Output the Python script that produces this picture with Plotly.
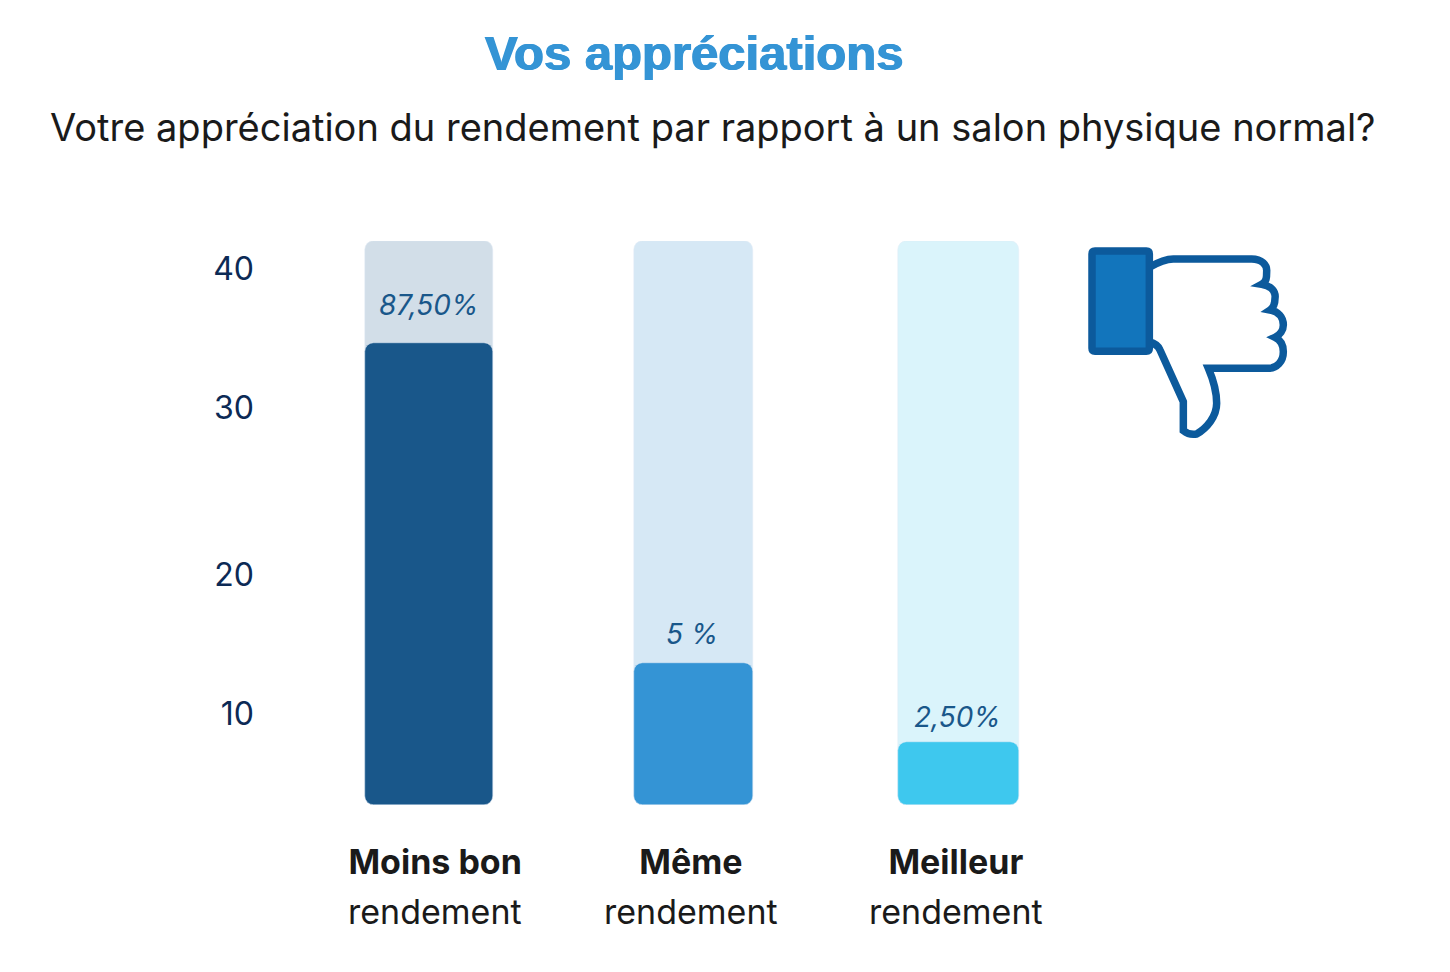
"""Vos appréciations: rendement par rapport à un salon physique."""

import plotly.graph_objects as go

CATEGORIES = ["Moins bon", "Même", "Meilleur"]
BAR_VALUES = [32.8, 10.1, 4.5]
TRACK_VALUES = [40, 40, 40]
PCT_LABELS = ["87,50%", "5 %", "2,50%"]
Y_TICK_VALS = [6.45, 16.35, 28.2, 38.05]
Y_TICK_TEXT = ["10", "20", "30", "40"]

BAR_COLORS = ["#19578a", "#3494d5", "#3ec8ee"]
TRACK_COLORS = ["#d2dee8", "#d6e8f5", "#daf4fb"]
BAR_WIDTHS = [0.483, 0.45, 0.46]
LABEL_TICKS = [0.025, 0.99, 1.99]
LABEL_OFFSETS = [38, 29, 25]
LABEL_X = [0, -0.005, -0.005]

TEXT_COLOR = "#1a1a1a"
TICK_COLOR = "#0c2a55"
TITLE_COLOR = "#3494d5"
ICON_LINE = "#0c5a9c"
ICON_FILL = "#1275bc"
FONT = "Inter, Arial, sans-serif"

# page pixels of the plot area; the page body adds 8px around the figure
PAGE_W, PAGE_H, BODY = 1450, 972, 8
LEFT, RIGHT, TOP, BOTTOM = 296, 1091, 241, 805


def _paper_x(px: float) -> float:
    return (px - LEFT) / (RIGHT - LEFT)


def _paper_y(py: float) -> float:
    return (BOTTOM - py) / (BOTTOM - TOP)


def _icon_xy(zx: float, zy: float) -> str:
    return f"{_paper_x(1070 + zx / 3):.5f},{_paper_y(230 + zy / 3):.5f}"


def _icon_path(segments: list[tuple]) -> str:
    parts = []
    for seg in segments:
        cmd, *coords = seg
        points = " ".join(_icon_xy(*coords[i : i + 2]) for i in range(0, len(coords), 2))
        parts.append(f"{cmd} {points}")
    return " ".join(parts)


HAND = [
    ("M", 238, 112),
    ("C", 262, 98, 285, 87, 310, 87),
    ("L", 545, 87),
    ("C", 575, 87, 592, 105, 590, 125),
    ("C", 590, 142, 590, 155, 575, 163),
    ("C", 605, 168, 618, 185, 615, 205),
    ("C", 615, 222, 612, 232, 600, 240),
    ("C", 625, 245, 640, 262, 640, 285),
    ("C", 640, 300, 630, 315, 615, 322),
    ("C", 632, 330, 640, 345, 640, 365),
    ("C", 640, 395, 620, 415, 595, 415),
    ("L", 415, 415),
    ("C", 430, 450, 440, 490, 440, 520),
    ("C", 440, 560, 410, 595, 380, 612),
    ("C", 365, 615, 350, 610, 340, 602),
    ("L", 340, 515),
    ("L", 270, 360),
    ("C", 265, 348, 255, 340, 238, 336),
]
CUFF = [
    ("M", 75, 63),
    ("L", 229, 63),
    ("Q", 238, 63, 238, 72),
    ("L", 238, 355),
    ("Q", 238, 364, 229, 364),
    ("L", 75, 364),
    ("Q", 66, 364, 66, 355),
    ("L", 66, 72),
    ("Q", 66, 63, 75, 63),
    ("Z",),
]

x = list(range(len(CATEGORIES)))

fig = go.Figure()
# an explicit base makes plotly round both ends of the bar
fig.add_trace(
    go.Bar(
        x=x,
        y=TRACK_VALUES,
        base=0,
        width=BAR_WIDTHS,
        marker={"color": TRACK_COLORS, "cornerradius": 9},
        hoverinfo="skip",
    )
)
fig.add_trace(
    go.Bar(
        x=x,
        y=BAR_VALUES,
        base=0,
        width=BAR_WIDTHS,
        marker={"color": BAR_COLORS, "cornerradius": 9},
    )
)

for i, label in enumerate(PCT_LABELS):
    fig.add_annotation(
        x=i + LABEL_X[i],
        y=BAR_VALUES[i],
        yshift=LABEL_OFFSETS[i],
        text=f"<i>{label}</i>",
        showarrow=False,
        yanchor="middle",
        font={"size": 28, "color": BAR_COLORS[0], "family": FONT},
    )
    fig.add_annotation(
        x=LABEL_TICKS[i],
        y=_paper_y(911),
        yref="paper",
        text="rendement",
        showarrow=False,
        yanchor="middle",
        font={"size": 34, "color": TEXT_COLOR, "family": FONT},
    )

fig.add_annotation(
    x=_paper_x(694),
    y=_paper_y(53),
    xref="paper",
    yref="paper",
    text="<b>Vos appréciations</b>",
    showarrow=False,
    xanchor="center",
    yanchor="middle",
    font={
        "size": 49,
        "color": TITLE_COLOR,
        "family": "Liberation Sans, Arial, sans-serif",
        "shadow": f"0.7px 0 0 {TITLE_COLOR}, -0.7px 0 0 {TITLE_COLOR}",
    },
)
fig.add_annotation(
    x=_paper_x(713),
    y=_paper_y(127),
    xref="paper",
    yref="paper",
    text="Votre appréciation du rendement par rapport à un salon physique normal?",
    showarrow=False,
    xanchor="center",
    yanchor="middle",
    font={"size": 38, "color": TEXT_COLOR, "family": FONT},
)

fig.add_shape(
    type="path",
    xref="paper",
    yref="paper",
    path=_icon_path(HAND),
    line={"color": ICON_LINE, "width": 7.5},
    fillcolor="white",
)
fig.add_shape(
    type="path",
    xref="paper",
    yref="paper",
    path=_icon_path(CUFF),
    line={"color": ICON_LINE, "width": 7.5},
    fillcolor=ICON_FILL,
)

fig.update_layout(
    width=PAGE_W - BODY,
    height=PAGE_H - BODY,
    barmode="overlay",
    showlegend=False,
    paper_bgcolor="white",
    plot_bgcolor="white",
    font={"family": FONT, "color": TEXT_COLOR},
    margin={
        "l": LEFT - BODY,
        "r": PAGE_W - RIGHT,
        "t": TOP - BODY,
        "b": PAGE_H - BOTTOM,
        "pad": 0,
    },
    bargap=0,
)
fig.update_xaxes(
    range=[-0.5, 2.5],
    tickmode="array",
    tickvals=LABEL_TICKS,
    ticktext=CATEGORIES,
    tickfont={"size": 34, "color": TEXT_COLOR, "family": FONT, "weight": 700},
    ticklen=0,
    ticklabelstandoff=34,
    showgrid=False,
    zeroline=False,
    showline=False,
    automargin=False,
)
fig.update_yaxes(
    range=[0, 40],
    tickmode="array",
    tickvals=Y_TICK_VALS,
    ticktext=Y_TICK_TEXT,
    tickfont={"size": 32, "color": TICK_COLOR, "family": FONT},
    ticklen=0,
    ticklabelstandoff=41,
    showgrid=False,
    zeroline=False,
    showline=False,
    automargin=False,
)

fig.write_html("out.html")
